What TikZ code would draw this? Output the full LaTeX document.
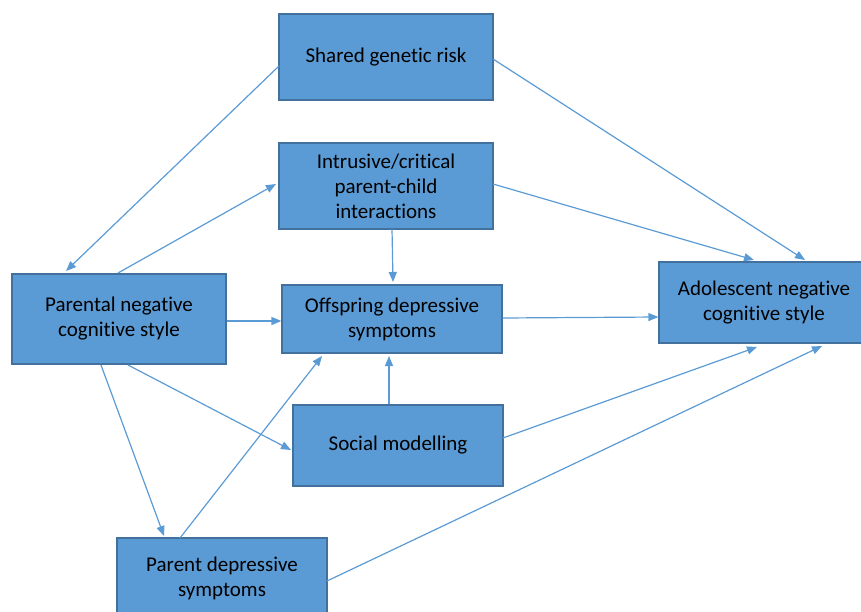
\documentclass[tikz,border=0pt]{standalone}
\usepackage{fontspec}
\setmainfont{Carlito}[Ligatures=NoCommon]
\usetikzlibrary{arrows.meta}
\definecolor{boxfill}{HTML}{5B9BD5}
\definecolor{boxline}{HTML}{41719C}
\definecolor{arr}{HTML}{5B9BD5}
\begin{document}
\begin{tikzpicture}[x=1pt,y=-1pt,
  box/.style={draw=boxline,line width=1.2pt,fill=boxfill,inner sep=0pt,align=center,
    font=\fontsize{21}{25}\selectfont,text=black},
  link/.style={draw=arr,line width=1.2pt,-{Triangle[length=10pt,width=8pt]}}]
\useasboundingbox (0,0) rectangle (861,612);
\node[box,minimum width=214pt,minimum height=86pt] (sg) at (386,57) {Shared genetic risk};
\node[box,minimum width=214pt,minimum height=86pt] (ic) at (386,186) {Intrusive/critical\\parent-child\\interactions};
\node[box,minimum width=214pt,minimum height=90pt] (pn) at (119,319) {Parental negative\\cognitive style};
\node[box,minimum width=220pt,minimum height=68pt] (od) at (392,319) {Offspring depressive\\symptoms};
\node[box,minimum width=210pt,minimum height=81pt] (an) at (764,302.5) {Adolescent negative\\cognitive style};
\node[box,minimum width=210pt,minimum height=81pt] (sm) at (398,445.5) {Social modelling};
\node[box,minimum width=210pt,minimum height=80pt] (pd) at (222,578) {Parent depressive\\symptoms};
\coordinate (a1) at (279,66);
\coordinate (a1e) at (66,271);
\draw[link] (a1) -- (a1e);
\coordinate (b1) at (493,59);
\coordinate (b1e) at (805,260);
\draw[link] (b1) -- (b1e);
\coordinate (c1) at (118,273);
\coordinate (c1e) at (276,184);
\draw[link] (c1) -- (c1e);
\coordinate (d1) at (493,184);
\coordinate (d1e) at (754,260);
\draw[link] (d1) -- (d1e);
\coordinate (e1) at (392,229);
\coordinate (e1e) at (393,282);
\draw[link] (e1) -- (e1e);
\draw[link] (pn.east |- 0,321) -- (od.west |- 0,321);
\draw[link] (od.east |- 0,318) -- (an.west |- 0,317);
\draw[link] (sm.north -| 389,0) -- (389,356);
\draw[link] (128,365) -- (291,450);
\draw[link] (101,365) -- (164,536);
\draw[link] (180,538) -- (322,356);
\draw[link] (503,438) -- (757,347);
\draw[link] (327,581) -- (822,346);
\end{tikzpicture}
\end{document}
